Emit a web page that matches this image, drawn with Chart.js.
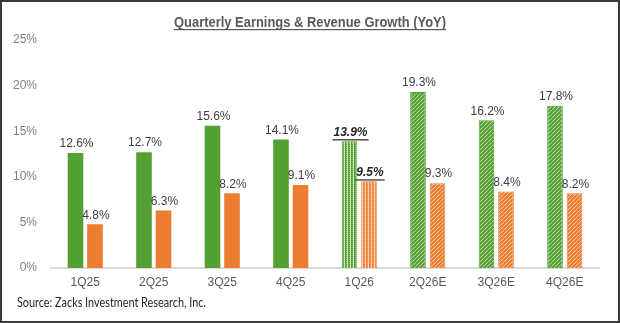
<!DOCTYPE html>
<html>
<head>
<meta charset="utf-8">
<script src="https://cdn.jsdelivr.net/npm/chart.js@4.4.1/dist/chart.umd.min.js"></script>
<style>
  html, body { margin: 0; padding: 0; background: #fff; }
  #wrap { width: 620px; height: 323px; }
</style>
</head>
<body>
<div id="wrap"><canvas id="growthChart" width="620" height="323"></canvas></div>
<script>
const quarters = ['1Q25', '2Q25', '3Q25', '4Q25', '1Q26', '2Q26E', '3Q26E', '4Q26E'];
const earningsGrowth = [12.6, 12.7, 15.6, 14.1, 13.9, 19.3, 16.2, 17.8];
const revenueGrowth = [4.8, 6.3, 8.2, 9.1, 9.5, 9.3, 8.4, 8.2];
const yTicks = [0, 5, 10, 15, 20, 25];

const GREEN = '#55a033';
const ORANGE = '#ed7d31';
const currentIdx = 4;   // 1Q26, reported so far
const firstEstimate = 5; // 2Q26E onwards
const FONT = 'Arial, "Liberation Sans", sans-serif';

// diagonal hatch for the estimate quarters
function hatch(color) {
    const c = document.createElement('canvas');
    c.width = 4; c.height = 4;
    const g = c.getContext('2d');
    g.fillStyle = '#fff';
    g.fillRect(0, 0, 4, 4);
    g.strokeStyle = color;
    g.lineWidth = 2.3;
    g.beginPath();
    g.moveTo(-1, 5); g.lineTo(5, -1);
    g.moveTo(-1, 1); g.lineTo(1, -1);
    g.moveTo(3, 5); g.lineTo(5, 3);
    g.stroke();
    return g.createPattern(c, 'repeat');
}

// dotted vertical stripes for the current quarter
function stripes(color) {
    const c = document.createElement('canvas');
    c.width = 3; c.height = 2;
    const g = c.getContext('2d');
    g.fillStyle = color === ORANGE ? '#f8cfb3' : '#cfe3c2';
    g.fillRect(0, 0, 3, 2);
    g.fillStyle = color;
    g.fillRect(0, 0, 2, 2);
    g.fillStyle = 'rgba(255,255,255,0.35)';
    g.fillRect(1, 1, 1, 1);
    return g.createPattern(c, 'repeat');
}

function fills(color) {
    return quarters.map((q, i) => i >= firstEstimate ? hatch(color) : (i === currentIdx ? stripes(color) : color));
}

const valueLabels = {
    id: 'valueLabels',
    afterDatasetsDraw(chart) {
        const ctx = chart.ctx;
        ctx.save();
        ctx.textAlign = 'center';
        ctx.textBaseline = 'bottom';
        chart.data.datasets.forEach((ds, di) => {
            chart.getDatasetMeta(di).data.forEach((bar, i) => {
                const txt = ds.data[i].toFixed(1) + '%';
                const x = bar.x + 1;
                const y = bar.y - 3;
                if (i === currentIdx) {
                    ctx.font = 'italic bold 12px ' + FONT;
                    ctx.fillStyle = '#262626';
                    ctx.fillText(txt, x, y);
                    const w = ctx.measureText(txt).width;
                    ctx.fillRect(x - w / 2 - 1, y + 1, w + 2, 1.2);
                } else {
                    ctx.font = '12px ' + FONT;
                    ctx.fillStyle = '#404040';
                    ctx.fillText(txt, x, y);
                }
            });
        });
        ctx.restore();
    }
};

const frame = {
    id: 'frame',
    afterDraw(chart) {
        const ctx = chart.ctx;
        ctx.save();
        // title
        const title = 'Quarterly Earnings & Revenue Growth (YoY)';
        ctx.font = 'bold 14px "Liberation Sans Narrow", Arial, sans-serif';
        ctx.fillStyle = '#595959';
        ctx.textBaseline = 'alphabetic';
        ctx.textAlign = 'left';
        const tw = ctx.measureText(title).width;
        ctx.translate(174, 0);
        ctx.scale(Math.min(1, 272 / tw), 1);
        ctx.fillText(title, 0, 27);
        ctx.fillRect(0, 29, tw, 1.2);
        ctx.setTransform(1, 0, 0, 1, 0, 0);
        // source note
        const note = 'Source: Zacks Investment Research, Inc.';
        ctx.font = '12.5px Lato, "Open Sans", sans-serif';
        ctx.fillStyle = '#262626';
        const nw = ctx.measureText(note).width;
        ctx.translate(17, 0);
        ctx.scale(Math.min(1, 189 / nw), 1);
        ctx.fillText(note, 0, 307);
        ctx.setTransform(1, 0, 0, 1, 0, 0);
        // outer border
        ctx.strokeStyle = '#3a3a3a';
        ctx.lineWidth = 2;
        ctx.strokeRect(1, 1, 618, 321);
        ctx.restore();
    }
};

new Chart(document.getElementById('growthChart').getContext('2d'), {
    type: 'bar',
    data: {
        labels: quarters,
        datasets: [{
            label: 'Earnings Growth',
            data: earningsGrowth,
            backgroundColor: fills(GREEN),
            borderColor: GREEN,
            borderWidth: quarters.map((q, i) => i >= currentIdx ? 1 : 0)
        }, {
            label: 'Revenue Growth',
            data: revenueGrowth,
            backgroundColor: fills(ORANGE),
            borderColor: ORANGE,
            borderWidth: quarters.map((q, i) => i >= currentIdx ? 1 : 0)
        }]
    },
    options: {
        responsive: false,
        animation: false,
        categoryPercentage: 0.57,
        barPercentage: 0.8,
        layout: { padding: { top: 40, right: 21, bottom: 30, left: 0 } },
        plugins: {
            legend: { display: false },
            tooltip: { enabled: false }
        },
        scales: {
            x: {
                grid: { display: false, drawTicks: false },
                border: { color: '#d9d9d9', width: 2 },
                ticks: {
                    color: '#595959',
                    font: { family: FONT, size: 12 },
                    padding: 7
                },
                afterFit(axis) { axis.height = 25; }
            },
            y: {
                min: 0,
                max: 25,
                afterBuildTicks(axis) { axis.ticks = yTicks.map(v => ({ value: v })); },
                grid: { display: false, drawTicks: false },
                border: { display: false },
                ticks: {
                    color: '#7f7f7f',
                    font: { family: FONT, size: 12 },
                    padding: 14,
                    callback: v => v + '%'
                },
                afterFit(axis) { axis.width = 51; }
            }
        }
    },
    plugins: [valueLabels, frame]
});
</script>
</body>
</html>
